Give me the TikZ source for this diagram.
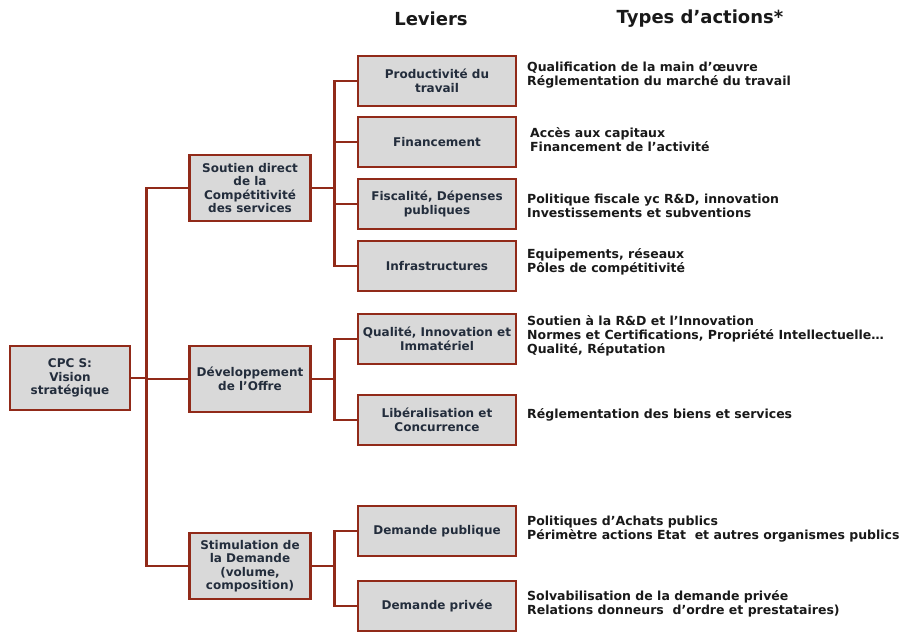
\documentclass[tikz,border=0pt]{standalone}
\usepackage{fontspec}
\setmainfont{DejaVu Sans}
\usepackage{tikz}
\usetikzlibrary{positioning}
\definecolor{cpbrown}{RGB}{145,42,25}
\definecolor{cpfill}{RGB}{217,217,217}
\definecolor{cptext}{RGB}{35,45,60}
\definecolor{cpact}{RGB}{25,25,25}
\tikzset{
  cpbox/.style={draw=cpbrown, line width=2.8pt, fill=cpfill, align=center, text=cptext,
    font=\bfseries\fontsize{12}{13.5}\selectfont, inner sep=2pt},
  cproot/.style={cpbox, minimum width=120pt, minimum height=64pt},
  cpaxe/.style={cpbox, minimum width=121pt, minimum height=66pt},
  cplevier/.style={cpbox, minimum width=158pt, minimum height=50pt},
  cpaction/.style={anchor=west, align=left, text=cpact, font=\bfseries\fontsize{12.5}{14}\selectfont, inner sep=0pt},
  cphead/.style={font=\bfseries\fontsize{18}{20}\selectfont, text=cpact},
  cplink/.style={draw=cpbrown, line width=2.4pt}
}
\begin{document}
\begin{tikzpicture}[x=1pt, y=-1pt]
  \useasboundingbox (0,0) rectangle (909,631);
  % headers
  \node[cphead] (hlev) at (431,19) {Leviers};
  \node[cphead] (hact) at (700,19) {Types d’actions*};
  % root and axes
  \node[cproot] (root) at (70,378) {CPC S:\\Vision\\stratégique};
  \node[cpaxe] (soutien) at (250,188) {Soutien direct\\de la\\Compétitivité\\des services};
  \node[cpaxe] (dev) at (250,379) {Développement\\de l’Offre};
  \node[cpaxe] (stim) at (250,566) {Stimulation de\\la Demande\\(volume,\\composition)};
  % leviers
  \node[cplevier] (prod) at (437,81) {Productivité du\\travail};
  \node[cplevier] (fin) at (437,142) {Financement};
  \node[cplevier] (fisc) at (437,204) {Fiscalité, Dépenses\\publiques};
  \node[cplevier] (infra) at (437,266) {Infrastructures};
  \node[cplevier] (qual) at (437,339) {Qualité, Innovation et\\Immatériel};
  \node[cplevier] (lib) at (437,420) {Libéralisation et\\Concurrence};
  \node[cplevier] (dpub) at (437,531) {Demande publique};
  \node[cplevier] (dpriv) at (437,606) {Demande privée};
  % types d'actions
  \node[cpaction] (aprod) at (527,75) {Qualification de la main d’œuvre\\Réglementation du marché du travail};
  \node[cpaction] (afin) at (530,140) {Accès aux capitaux\\Financement de l’activité};
  \node[cpaction] (afisc) at (527,206) {Politique fiscale yc R\&D, innovation\\Investissements et subventions};
  \node[cpaction] (ainfra) at (527,262) {Equipements, réseaux\\Pôles de compétitivité};
  \node[cpaction] (aqual) at (527,336) {Soutien à la R\&D et l’Innovation\\Normes et Certifications, Propriété Intellectuelle…\\Qualité, Réputation};
  \node[cpaction] (alib) at (527,415) {Réglementation des biens et services};
  \node[cpaction] (adpub) at (527,529) {Politiques d’Achats publics\\Périmètre actions Etat\ \ et autres organismes publics};
  \node[cpaction] (adpriv) at (527,604) {Solvabilisation de la demande privée\\Relations donneurs\ \ d’ordre et prestataires)};
  % tree
  \foreach \c in {soutien,dev,stim}
    \draw[cplink] (root.east) -- ++(15,0) |- (\c.west);
  \foreach \c in {prod,fin,fisc,infra}
    \draw[cplink] (soutien.east) -- ++(22.5,0) |- (\c.west);
  \foreach \c in {qual,lib}
    \draw[cplink] (dev.east) -- ++(22.5,0) |- (\c.west);
  \foreach \c in {dpub,dpriv}
    \draw[cplink] (stim.east) -- ++(22.5,0) |- (\c.west);
\end{tikzpicture}
\end{document}
